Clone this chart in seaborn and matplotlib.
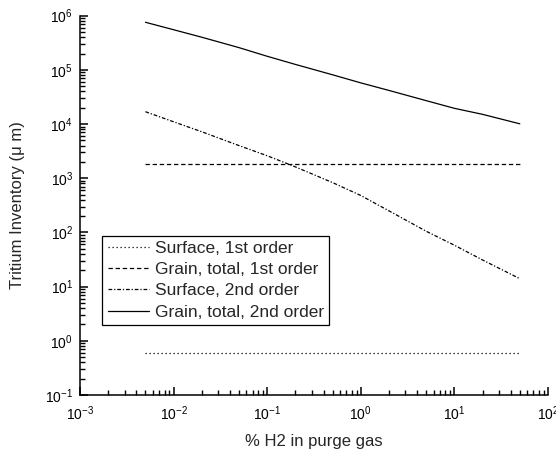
import numpy as np
import pandas as pd
import matplotlib
matplotlib.use("Agg")
import matplotlib.pyplot as plt
import seaborn as sns
from matplotlib.ticker import LogLocator, NullFormatter

# % H2 in purge gas
h2 = [0.005, 0.01, 0.02, 0.05, 0.1, 0.2, 0.5, 1, 2, 5, 10, 20, 50]

# tritium inventory curves
surface_1st = [0.6] * len(h2)
grain_1st = [1800] * len(h2)
surface_2nd = [1.69e4, 1.10e4, 7.2e3, 4.0e3, 2.6e3, 1.62e3, 830, 480, 250, 105, 58, 31, 14]
grain_2nd = [7.55e5, 5.5e5, 4.0e5, 2.57e5, 1.78e5, 1.26e5, 8.1e4, 5.75e4, 4.17e4, 2.7e4,
             1.95e4, 1.51e4, 1.01e4]

series = [
    ("Surface, 1st order", surface_1st, (0, (1, 2.2))),
    ("Grain, total, 1st order", grain_1st, (0, (3.5, 2.2))),
    ("Surface, 2nd order", surface_2nd, (0, (3.0, 1.5, 1, 1.5))),
    ("Grain, total, 2nd order", grain_2nd, "-"),
]

sns.set_style("ticks")
plt.rcParams["font.family"] = ["Liberation Sans", "DejaVu Sans"]
plt.rcParams["mathtext.fontset"] = "custom"
plt.rcParams["mathtext.rm"] = "Liberation Sans"

fig = plt.figure(figsize=(5.56, 4.54), dpi=100)
ax = fig.add_axes([0.1439, 0.13, 0.8417, 0.8355])

for name, vals, ls in series:
    df = pd.DataFrame({"x": h2, "y": vals})
    sns.lineplot(data=df, x="x", y="y", ax=ax, color="black", linewidth=0.9,
                 linestyle=ls, label=name)

ax.set_xscale("log")
ax.set_yscale("log")
ax.set_xlim(1e-3, 1e2)
ax.set_ylim(1e-1, 1e6)

ax.xaxis.set_major_locator(LogLocator(base=10, numticks=10))
ax.yaxis.set_major_locator(LogLocator(base=10, numticks=10))
ax.xaxis.set_minor_locator(LogLocator(base=10, subs=np.arange(2, 10) * 1.0, numticks=20))
ax.yaxis.set_minor_locator(LogLocator(base=10, subs=np.arange(2, 10) * 1.0, numticks=20))
ax.xaxis.set_minor_formatter(NullFormatter())
ax.yaxis.set_minor_formatter(NullFormatter())

ax.tick_params(which="major", direction="in", length=5.5, width=1.1, labelsize=10,
               colors="black", pad=5)
ax.tick_params(axis="x", which="major", pad=7)
ax.tick_params(which="minor", direction="in", length=3.5, width=1.0, colors="black")

sns.despine(ax=ax)
for sp in ("left", "bottom"):
    ax.spines[sp].set_linewidth(1.1)
    ax.spines[sp].set_color("black")

ax.set_xlabel("% H2 in purge gas", fontsize=12, labelpad=8)
ax.set_ylabel("Tritium Inventory (\u03bc m)", fontsize=12, labelpad=14)

leg = ax.legend(loc="upper left", bbox_to_anchor=(0.048, 0.42), borderaxespad=0,
                fontsize=12.5, frameon=True, fancybox=False, edgecolor="black",
                framealpha=1, handlelength=2.4, handletextpad=0.3,
                labelspacing=0.35, borderpad=0.3)
leg.get_frame().set_linewidth(0.9)

fig.savefig("out.png", dpi=100)
